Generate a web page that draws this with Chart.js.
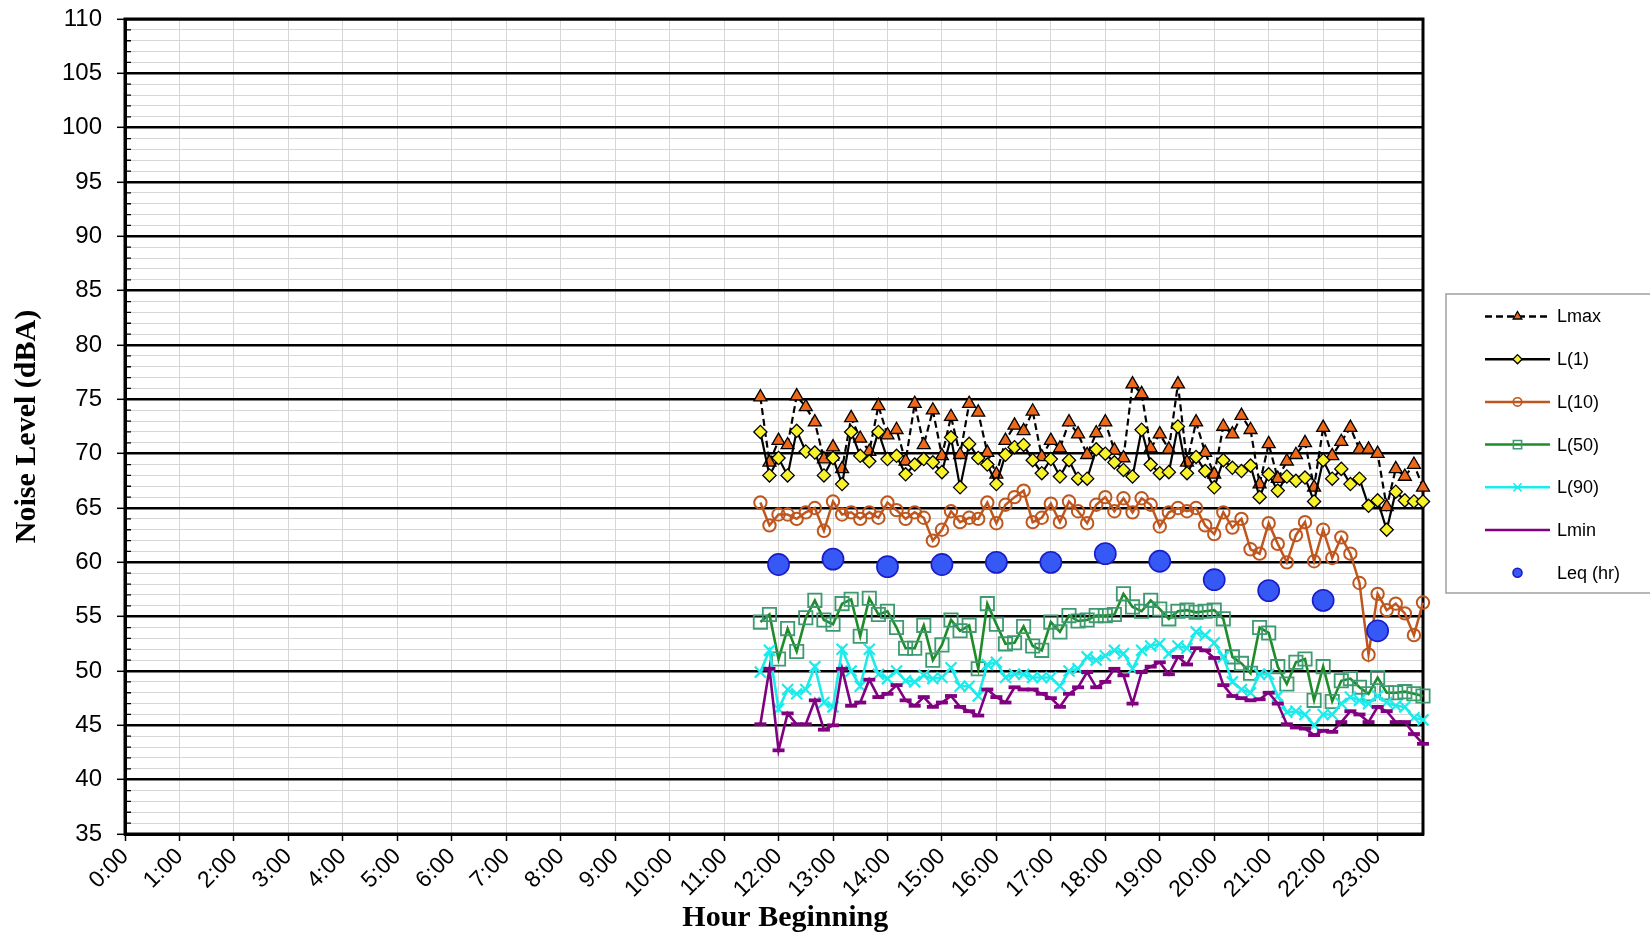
<!DOCTYPE html>
<html><head><meta charset="utf-8">
<script src="https://cdn.jsdelivr.net/npm/chart.js@4.4.1/dist/chart.umd.min.js"></script>
<style>html,body{margin:0;padding:0;background:#fff;overflow:hidden}#wrap{width:1650px;height:936px;position:relative}</style>
</head><body><div id="wrap"><canvas id="c" width="1650" height="936"></canvas></div>
<script>
const times = ['11:40','11:50',
'12:00','12:10','12:20','12:30','12:40','12:50',
'13:00','13:10','13:20','13:30','13:40','13:50',
'14:00','14:10','14:20','14:30','14:40','14:50',
'15:00','15:10','15:20','15:30','15:40','15:50',
'16:00','16:10','16:20','16:30','16:40','16:50',
'17:00','17:10','17:20','17:30','17:40','17:50',
'18:00','18:10','18:20','18:30','18:40','18:50',
'19:00','19:10','19:20','19:30','19:40','19:50',
'20:00','20:10','20:20','20:30','20:40','20:50',
'21:00','21:10','21:20','21:30','21:40','21:50',
'22:00','22:10','22:20','22:30','22:40','22:50',
'23:00','23:10','23:20','23:30','23:40','23:50'];

const lmax = [75.2,69.2,71.2,70.8,75.3,74.3,72.9,69.5,70.6,68.6,73.3,71.4,70.2,74.4,71.7,72.2,69.3,74.6,
70.8,74.0,69.8,73.4,69.9,74.6,73.8,70.1,68.1,71.2,72.6,72.1,73.9,69.7,71.2,70.5,72.9,71.8,69.9,
71.9,72.9,70.3,69.6,76.4,75.5,70.5,71.8,70.4,76.4,69.2,72.9,70.1,68.1,72.5,71.8,73.5,72.2,67.2,
70.9,67.7,69.3,69.9,71.0,66.9,72.4,69.8,71.1,72.4,70.4,70.4,70.0,65.1,68.6,67.9,69.0,66.9];

const l1 = [72.0,68.0,69.6,68.0,72.1,70.2,70.1,68.0,69.6,67.2,72.0,69.8,69.3,72.0,69.5,69.8,68.1,69.0,
69.5,69.2,68.3,71.5,66.9,70.9,69.6,69.0,67.2,69.9,70.6,70.8,69.4,68.2,69.5,67.9,69.4,67.7,67.7,
70.4,70.0,69.2,68.5,67.9,72.2,69.0,68.2,68.3,72.5,68.2,69.7,68.4,66.9,69.4,68.7,68.4,68.9,66.0,
68.1,66.6,67.9,67.5,67.8,65.6,69.4,67.7,68.6,67.2,67.7,65.2,65.7,63.0,66.5,65.7,65.6,65.6];

const l10 = [65.5,63.4,64.4,64.4,64.0,64.6,65.0,62.9,65.6,64.4,64.6,64.0,64.6,64.1,65.5,64.8,64.0,64.6,
64.1,62.0,63.0,64.7,63.7,64.1,64.0,65.5,63.6,65.3,66.0,66.6,63.7,64.1,65.4,63.7,65.6,64.7,63.6,
65.3,66.0,64.7,65.9,64.6,65.9,65.3,63.3,64.6,65.0,64.7,65.0,63.4,62.6,64.6,63.2,64.0,61.2,60.8,
63.6,61.7,60.0,62.5,63.7,60.1,63.0,60.4,62.3,60.8,58.1,51.5,57.1,55.6,56.2,55.3,53.3,56.3];

const l50 = [54.5,55.2,51.1,53.9,51.8,54.9,56.5,54.7,54.3,56.2,56.6,53.2,56.7,55.2,55.5,54.0,52.1,52.1,
54.2,51.0,52.4,54.7,53.7,54.2,50.2,56.2,54.3,52.5,52.6,54.1,52.3,51.9,54.5,53.6,55.1,54.6,54.7,
55.1,55.1,55.2,57.1,55.9,55.5,56.5,55.7,54.8,55.5,55.6,55.4,55.5,55.6,54.8,51.3,50.7,49.8,54.0,
53.5,50.4,48.8,50.8,51.1,47.3,50.4,47.2,49.1,49.3,48.5,47.9,49.4,48.0,48.0,48.1,47.9,47.7];

const l90 = [49.9,51.9,46.5,48.3,47.9,48.3,50.4,47.1,46.7,52.0,50.0,48.6,52.0,49.7,49.3,50.0,49.1,49.0,
49.6,49.3,49.4,50.3,48.6,48.6,47.7,50.6,50.8,49.4,49.7,49.7,49.4,49.4,49.4,48.6,50.0,50.2,51.3,
51.0,51.4,51.9,51.6,50.2,51.9,52.3,52.5,51.6,52.3,52.1,53.6,53.3,52.6,51.3,49.0,48.3,48.0,49.7,
49.7,47.7,46.2,46.3,46.0,45.0,46.0,46.0,47.0,47.6,47.3,47.0,47.7,47.1,46.8,46.7,45.7,45.5];

const lmin = [45.1,50.2,42.7,46.1,45.1,45.1,47.3,44.6,45.0,50.2,46.8,47.1,49.2,47.6,47.9,48.7,47.3,46.8,
47.6,46.7,47.1,47.7,46.7,46.3,45.9,48.3,47.6,47.1,48.5,48.3,48.3,47.9,47.5,46.7,47.9,48.5,49.9,
48.5,49.0,50.2,49.6,47.0,49.9,50.4,50.8,49.7,51.3,50.6,52.1,51.9,51.2,48.7,47.7,47.5,47.3,47.4,
48.0,47.0,45.1,44.8,44.7,44.1,44.5,44.4,45.3,46.3,46.0,45.3,46.7,46.3,45.3,45.3,44.2,43.3];

const leqTimes = ['12:00','13:00','14:00','15:00','16:00','17:00','18:00','19:00','20:00','21:00','22:00','23:00'];
const leq = [59.8,60.3,59.6,59.8,60.0,60.0,60.8,60.1,58.4,57.4,56.5,53.7];

const hourLabels = ['0:00','1:00','2:00','3:00','4:00','5:00','6:00','7:00','8:00','9:00','10:00','11:00',
'12:00','13:00','14:00','15:00','16:00','17:00','18:00','19:00','20:00','21:00','22:00','23:00'];
const seriesNames = ['Lmax','L(1)','L(10)','L(50)','L(90)','Lmin','Leq (hr)'];
const xMaxLabel = '23:50';
const yMin = 35, yMax = 110;

const toH = s => { const p = s.split(':').map(Number); return p[0] + p[1] / 60; };
const pts = (tArr, vArr) => vArr.map((v, i) => ({x: toH(tArr[i]), y: v}));

const legendR = [5, 4.6, 4.2, 5.8, 5.8, 0, 4.5];

function drawMarker(ctx, style, x, y, r, fill, stroke, lw) {
  if (!r) return;
  ctx.save();
  ctx.setLineDash([]);
  ctx.fillStyle = fill; ctx.strokeStyle = stroke; ctx.lineWidth = lw;
  ctx.beginPath();
  if (style === 'triangle') {
    ctx.moveTo(x, y - r); ctx.lineTo(x + r * 0.866, y + r * 0.5); ctx.lineTo(x - r * 0.866, y + r * 0.5); ctx.closePath();
    ctx.fill(); ctx.stroke();
  } else if (style === 'rectRot') {
    ctx.moveTo(x, y - r); ctx.lineTo(x + r, y); ctx.lineTo(x, y + r); ctx.lineTo(x - r, y); ctx.closePath();
    ctx.fill(); ctx.stroke();
  } else if (style === 'circle') {
    ctx.arc(x, y, r, 0, Math.PI * 2); ctx.fill(); ctx.stroke();
  } else if (style === 'rect') {
    const s = r * Math.SQRT1_2; ctx.rect(x - s, y - s, 2 * s, 2 * s); ctx.fill(); ctx.stroke();
  } else if (style === 'crossRot') {
    const s = r * Math.SQRT1_2;
    ctx.moveTo(x - s, y - s); ctx.lineTo(x + s, y + s); ctx.moveTo(x + s, y - s); ctx.lineTo(x - s, y + s); ctx.stroke();
  } else if (style === 'line') {
    ctx.moveTo(x - r, y); ctx.lineTo(x + r, y); ctx.stroke();
  }
  ctx.restore();
}

const framePlugin = {
  id: 'frame',
  beforeDatasetsDraw(chart) {
    const {ctx, chartArea: a, scales} = chart;
    const ys = scales.y;
    ctx.save();
    ctx.strokeStyle = '#000';
    ctx.lineWidth = 1.3;
    ctx.beginPath();
    for (let v = yMin + 1; v < yMax; v++) {
      if (v % 5 !== 0) {
        const py = ys.getPixelForValue(v);
        ctx.moveTo(a.left, py); ctx.lineTo(a.left + 6, py);
      }
    }
    ctx.stroke();
    ctx.lineWidth = 3;
    ctx.strokeRect(a.left, a.top, a.right - a.left, a.bottom - a.top);
    ctx.restore();
  }
};

const legendPlugin = {
  id: 'boxLegend',
  afterDraw(chart) {
    const ctx = chart.ctx;
    const bx = 1446, by = 294, bw = 230, bh = 299;
    ctx.save();
    ctx.fillStyle = '#fff'; ctx.fillRect(bx, by, bw, bh);
    ctx.strokeStyle = '#a0a0a0'; ctx.lineWidth = 1.5; ctx.strokeRect(bx, by, bw, bh);
    chart.data.datasets.forEach((ds, j) => {
      const cy = 316.5 + j * 42.7;
      if (ds.showLine !== false) {
        ctx.beginPath();
        ctx.setLineDash(ds.borderDash || []);
        ctx.strokeStyle = ds.borderColor; ctx.lineWidth = 2.5;
        ctx.moveTo(1485, cy); ctx.lineTo(1550, cy); ctx.stroke();
        ctx.setLineDash([]);
      }
      drawMarker(ctx, ds.pointStyle, 1517.5, cy, legendR[j], ds.pointBackgroundColor, ds.pointBorderColor, Math.min(ds.pointBorderWidth, 1.6));
      ctx.fillStyle = '#000';
      ctx.font = '18px "Liberation Sans", Arial, sans-serif';
      ctx.textBaseline = 'middle'; ctx.textAlign = 'left';
      ctx.fillText(seriesNames[j], 1557, cy + 1);
    });
    ctx.restore();
  }
};

const common = {tension: 0, clip: false};

const datasets = [
  {label: seriesNames[0], data: pts(times, lmax), borderColor: '#000', borderWidth: 2.2, borderDash: [7, 4],
   pointStyle: 'triangle', pointRadius: 7.5, pointBackgroundColor: '#EE6819', pointBorderColor: '#000', pointBorderWidth: 1.3, order: 7},
  {label: seriesNames[1], data: pts(times, l1), borderColor: '#000', borderWidth: 2.2,
   pointStyle: 'rectRot', pointRadius: 6.6, pointBackgroundColor: '#F8F22A', pointBorderColor: '#000', pointBorderWidth: 1.3, order: 6},
  {label: seriesNames[2], data: pts(times, l10), borderColor: '#BF561D', borderWidth: 2.5,
   pointStyle: 'circle', pointRadius: 6.2, pointBackgroundColor: 'rgba(255,255,255,0)', pointBorderColor: '#BF561D', pointBorderWidth: 2, order: 5},
  {label: seriesNames[3], data: pts(times, l50), borderColor: '#1E8C28', borderWidth: 2.6,
   pointStyle: 'rect', pointRadius: 9.4, pointBackgroundColor: 'rgba(255,255,255,0)', pointBorderColor: '#3E9A70', pointBorderWidth: 1.8, order: 4},
  {label: seriesNames[4], data: pts(times, l90), borderColor: '#1CEBEB', borderWidth: 2.6,
   pointStyle: 'crossRot', pointRadius: 7.8, pointBackgroundColor: '#1CEBEB', pointBorderColor: '#1CEBEB', pointBorderWidth: 2.2, order: 3},
  {label: seriesNames[5], data: pts(times, lmin), borderColor: '#800080', borderWidth: 2.6,
   pointStyle: 'line', pointRadius: 6, pointBackgroundColor: '#800080', pointBorderColor: '#800080', pointBorderWidth: 3.8, order: 2},
  {label: seriesNames[6], data: pts(leqTimes, leq), showLine: false, borderColor: '#1B1BC8',
   pointStyle: 'circle', pointRadius: 10.6, pointBackgroundColor: '#3658F4', pointBorderColor: '#1B1BC8', pointBorderWidth: 1.6, order: 1}
].map(d => Object.assign({}, common, d, {pointHoverRadius: d.pointRadius}));

new Chart(document.getElementById('c'), {
  type: 'line',
  data: {datasets},
  plugins: [framePlugin, legendPlugin],
  options: {
    responsive: false,
    animation: false,
    devicePixelRatio: 1,
    events: [],
    layout: {padding: {top: 19, right: 227, bottom: 0, left: 0}},
    plugins: {legend: {display: false}, tooltip: {enabled: false}},
    scales: {
      x: {
        type: 'linear', min: 0, max: toH(xMaxLabel),
        afterFit(s) { s.height = 102; s.paddingLeft = 0; s.paddingRight = 0; s.paddingTop = 0; s.paddingBottom = 0; },
        ticks: {
          stepSize: 1, includeBounds: false, autoSkip: false, maxRotation: 45, minRotation: 45,
          padding: 2, color: '#000',
          font: {family: '"Liberation Sans", Arial, sans-serif', size: 23},
          callback: v => Number.isInteger(v) ? hourLabels[v] : ''
        },
        grid: {color: '#d6d6d6', lineWidth: 1, tickColor: '#000', tickLength: 7, tickWidth: 1.5},
        border: {display: true, color: '#000', width: 3},
        title: {display: true, text: '   Hour Beginning', color: '#000', padding: {top: 0, bottom: 0},
          font: {family: '"Liberation Serif", "Times New Roman", serif', size: 30, weight: 'bold'}}
      },
      y: {
        type: 'linear', min: yMin, max: yMax,
        afterFit(s) { s.width = 125; s.paddingTop = 0; s.paddingBottom = 0; s.paddingLeft = 0; s.paddingRight = 0; },
        ticks: {
          stepSize: 1, autoSkip: false, padding: 15, color: '#000',
          font: {family: '"Liberation Sans", Arial, sans-serif', size: 24},
          callback: v => (v % 5 === 0 ? String(v) : '')
        },
        grid: {
          color: c => (c.tick && c.tick.value % 5 === 0) ? '#000' : '#d6d6d6',
          lineWidth: c => (c.tick && c.tick.value % 5 === 0) ? 2.6 : 1,
          tickColor: c => (c.tick && c.tick.value % 5 === 0) ? '#000' : 'rgba(0,0,0,0)',
          tickLength: 8, tickWidth: 1.5
        },
        border: {display: true, color: '#000', width: 3},
        title: {display: true, text: 'Noise Level (dBA)', color: '#000', padding: {top: 9, bottom: 0},
          font: {family: '"Liberation Serif", "Times New Roman", serif', size: 30, weight: 'bold'}}
      }
    }
  }
});
</script>
</body></html>
